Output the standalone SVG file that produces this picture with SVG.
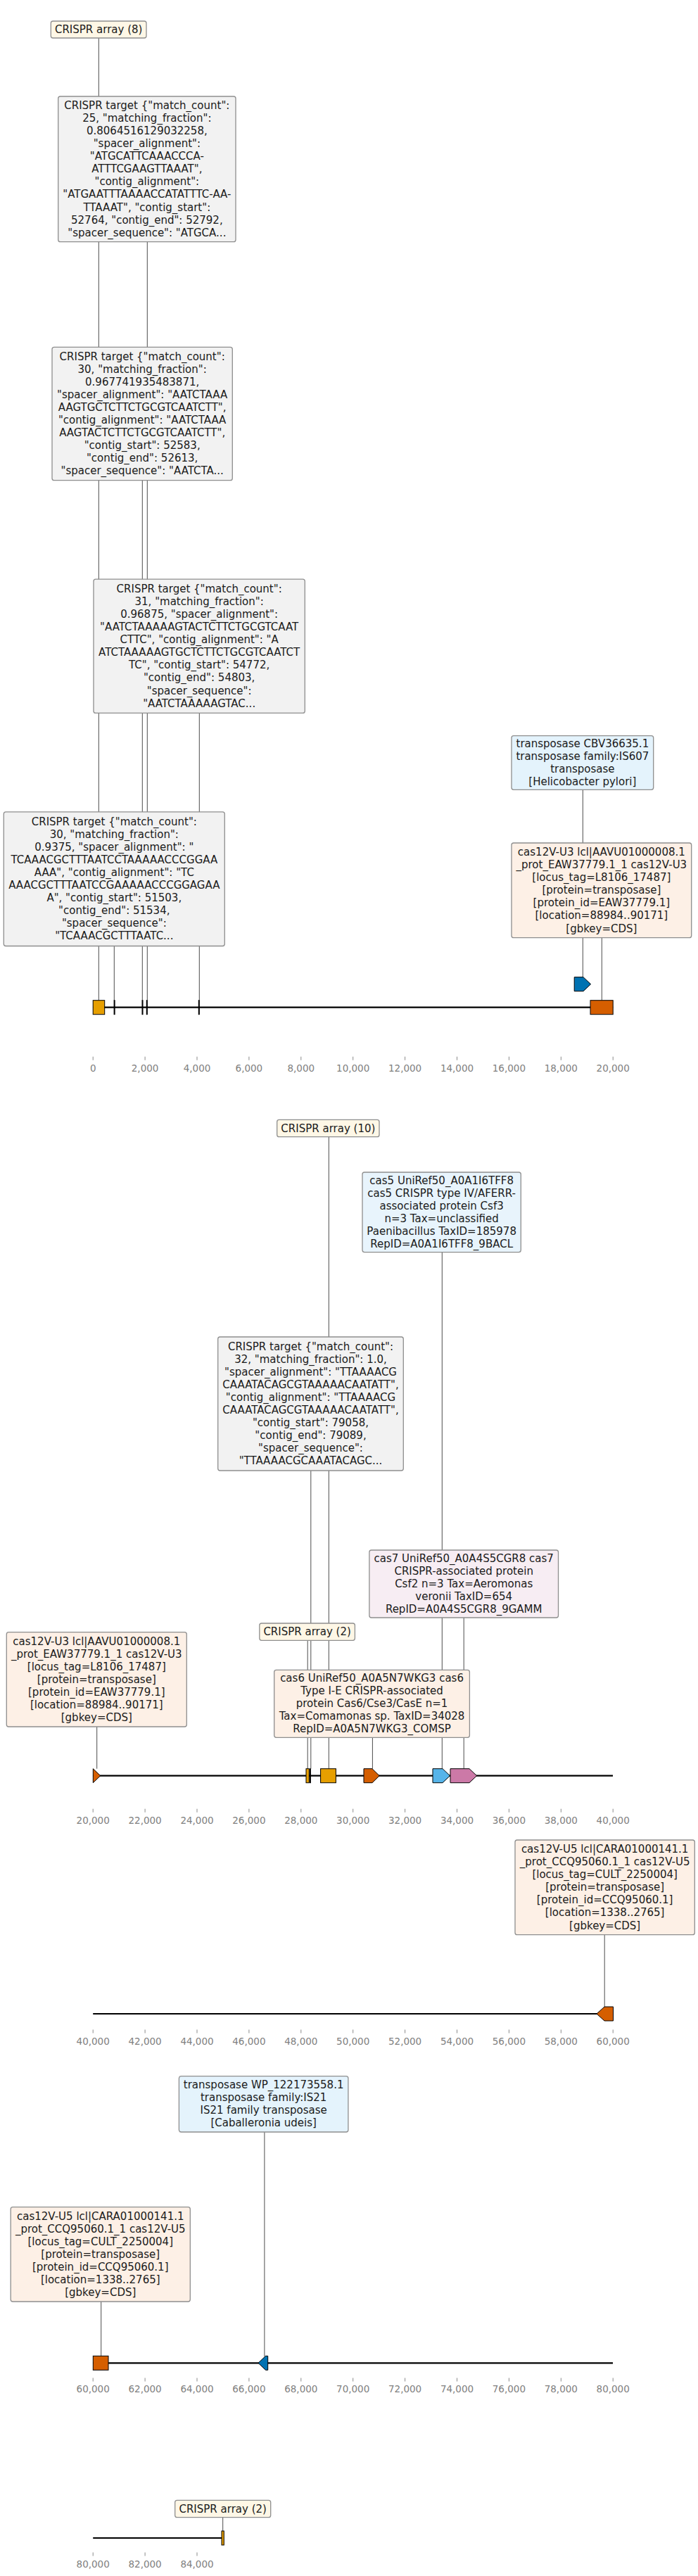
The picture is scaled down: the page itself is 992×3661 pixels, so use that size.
<svg xmlns="http://www.w3.org/2000/svg" width="992" height="3661" viewBox="0 0 992 3661">
<style>
.bg{fill:#ffffff}
.lbl rect{stroke:#8e8e8e;stroke-width:1.3}
.lbl text{font-family:"DejaVu Sans",sans-serif;font-size:15px;fill:#1a1a1a;text-anchor:middle}
.arr{fill:#FEF7E6}
.tgt{fill:#F2F2F2}
.tpb{fill:#E4F3FC}
.c12{fill:#FDF0E6}
.c5{fill:#E8F4FC}
.c7{fill:#F7EDF3}
.con line{stroke:#4d4d4d;stroke-width:1}
.axis{stroke:#000;stroke-width:2.2;fill:none}
.feat{stroke:#000;stroke-width:1}
.tick{stroke:#8a8a8a;stroke-width:1}
.tl{font-family:"DejaVu Sans",sans-serif;font-size:13.5px;fill:#808080;text-anchor:middle}
</style>
<rect class="bg" x="0" y="0" width="992" height="3661"/>

<g id="connectors" class="con">
<line x1="140.3" y1="54" x2="140.3" y2="1421.7"/>
<line x1="209.3" y1="343.7" x2="209.3" y2="1421.7"/>
<line x1="202.3" y1="682.7" x2="202.3" y2="1421.7"/>
<line x1="283.3" y1="1013.4" x2="283.3" y2="1421.7"/>
<line x1="162.3" y1="1344.5" x2="162.3" y2="1421.7"/>
<line x1="828.3" y1="1122.3" x2="828.3" y2="1388.7"/>
<line x1="855.3" y1="1332.7" x2="855.3" y2="1421.7"/>
<line x1="467.3" y1="1615.7" x2="467.3" y2="2513.7"/>
<line x1="628.3" y1="1779.6" x2="628.3" y2="2513.7"/>
<line x1="441.8" y1="2090" x2="441.8" y2="2513.7"/>
<line x1="137.7" y1="2454" x2="137.7" y2="2513.7"/>
<line x1="437.2" y1="2331.3" x2="437.2" y2="2513.7"/>
<line x1="529.4" y1="2469.3" x2="529.4" y2="2513.7"/>
<line x1="659.2" y1="2299" x2="659.2" y2="2513.7"/>
<line x1="859.2" y1="2749.7" x2="859.2" y2="2852"/>
<line x1="375.9" y1="3030" x2="375.9" y2="3349"/>
<line x1="143.7" y1="3271" x2="143.7" y2="3348.3"/>
<line x1="316.7" y1="3577.7" x2="316.7" y2="3597"/>
</g>

<g id="track1">
<path class="axis" d="M132.2 1431.7H871.2"/>
<rect class="feat" x="132.2" y="1421.7" width="16.5" height="20" fill="#E69F00"/>
<rect class="feat" x="162.1" y="1421.7" width="1" height="20" fill="#000"/>
<rect class="feat" x="202" y="1421.7" width="1" height="20" fill="#000"/>
<rect class="feat" x="208.3" y="1421.7" width="1" height="20" fill="#000"/>
<rect class="feat" x="282.3" y="1421.7" width="1" height="20" fill="#000"/>
<path class="feat" d="M816.2 1388.7H829L839.6 1398.7L829 1408.7H816.2Z" fill="#0072B2"/>
<rect class="feat" x="839" y="1421.7" width="32.2" height="20" fill="#D55E00"/>
<g class="tick">
<line x1="132.2" y1="1501.7" x2="132.2" y2="1506.7"/><line x1="206.1" y1="1501.7" x2="206.1" y2="1506.7"/><line x1="280" y1="1501.7" x2="280" y2="1506.7"/><line x1="353.9" y1="1501.7" x2="353.9" y2="1506.7"/><line x1="427.8" y1="1501.7" x2="427.8" y2="1506.7"/><line x1="501.7" y1="1501.7" x2="501.7" y2="1506.7"/><line x1="575.6" y1="1501.7" x2="575.6" y2="1506.7"/><line x1="649.5" y1="1501.7" x2="649.5" y2="1506.7"/><line x1="723.4" y1="1501.7" x2="723.4" y2="1506.7"/><line x1="797.3" y1="1501.7" x2="797.3" y2="1506.7"/><line x1="871.2" y1="1501.7" x2="871.2" y2="1506.7"/>
</g>
<text class="tl" x="132.2" y="1523.2">0</text><text class="tl" x="206.1" y="1523.2">2,000</text><text class="tl" x="280" y="1523.2">4,000</text><text class="tl" x="353.9" y="1523.2">6,000</text><text class="tl" x="427.8" y="1523.2">8,000</text><text class="tl" x="501.7" y="1523.2">10,000</text><text class="tl" x="575.6" y="1523.2">12,000</text><text class="tl" x="649.5" y="1523.2">14,000</text><text class="tl" x="723.4" y="1523.2">16,000</text><text class="tl" x="797.3" y="1523.2">18,000</text><text class="tl" x="871.2" y="1523.2">20,000</text>
</g>

<g id="track2">
<path class="axis" d="M132.2 2523.7H871"/>
<path class="feat" d="M132.3 2513.7L142.7 2523.7L132.3 2533.7Z" fill="#D55E00"/>
<rect class="feat" x="435" y="2513.7" width="4.3" height="20" fill="#E69F00"/>
<rect class="feat" x="440.6" y="2513.7" width="0.8" height="20" fill="#000"/>
<rect class="feat" x="455.6" y="2513.7" width="21.8" height="20" fill="#E69F00"/>
<path class="feat" d="M517 2513.7H529L539.2 2523.7L529 2533.7H517Z" fill="#D55E00"/>
<path class="feat" d="M615 2513.7H629L639.5 2523.7L629 2533.7H615Z" fill="#56B4E9"/>
<path class="feat" d="M640 2513.7H667L677.6 2523.7L667 2533.7H640Z" fill="#CC79A7"/>
<g class="tick">
<line x1="132.2" y1="2570.7" x2="132.2" y2="2575.7"/><line x1="206.1" y1="2570.7" x2="206.1" y2="2575.7"/><line x1="280" y1="2570.7" x2="280" y2="2575.7"/><line x1="353.9" y1="2570.7" x2="353.9" y2="2575.7"/><line x1="427.8" y1="2570.7" x2="427.8" y2="2575.7"/><line x1="501.7" y1="2570.7" x2="501.7" y2="2575.7"/><line x1="575.6" y1="2570.7" x2="575.6" y2="2575.7"/><line x1="649.5" y1="2570.7" x2="649.5" y2="2575.7"/><line x1="723.4" y1="2570.7" x2="723.4" y2="2575.7"/><line x1="797.3" y1="2570.7" x2="797.3" y2="2575.7"/><line x1="871.2" y1="2570.7" x2="871.2" y2="2575.7"/>
</g>
<text class="tl" x="132.2" y="2592.2">20,000</text><text class="tl" x="206.1" y="2592.2">22,000</text><text class="tl" x="280" y="2592.2">24,000</text><text class="tl" x="353.9" y="2592.2">26,000</text><text class="tl" x="427.8" y="2592.2">28,000</text><text class="tl" x="501.7" y="2592.2">30,000</text><text class="tl" x="575.6" y="2592.2">32,000</text><text class="tl" x="649.5" y="2592.2">34,000</text><text class="tl" x="723.4" y="2592.2">36,000</text><text class="tl" x="797.3" y="2592.2">38,000</text><text class="tl" x="871.2" y="2592.2">40,000</text>
</g>

<g id="track3">
<path class="axis" d="M132.2 2862H860"/>
<path class="feat" d="M871.5 2852H859L848 2862L859 2872H871.5Z" fill="#D55E00"/>
<g class="tick">
<line x1="132.2" y1="2884.5" x2="132.2" y2="2889.5"/><line x1="206.1" y1="2884.5" x2="206.1" y2="2889.5"/><line x1="280" y1="2884.5" x2="280" y2="2889.5"/><line x1="353.9" y1="2884.5" x2="353.9" y2="2889.5"/><line x1="427.8" y1="2884.5" x2="427.8" y2="2889.5"/><line x1="501.7" y1="2884.5" x2="501.7" y2="2889.5"/><line x1="575.6" y1="2884.5" x2="575.6" y2="2889.5"/><line x1="649.5" y1="2884.5" x2="649.5" y2="2889.5"/><line x1="723.4" y1="2884.5" x2="723.4" y2="2889.5"/><line x1="797.3" y1="2884.5" x2="797.3" y2="2889.5"/><line x1="871.2" y1="2884.5" x2="871.2" y2="2889.5"/>
</g>
<text class="tl" x="132.2" y="2906.2">40,000</text><text class="tl" x="206.1" y="2906.2">42,000</text><text class="tl" x="280" y="2906.2">44,000</text><text class="tl" x="353.9" y="2906.2">46,000</text><text class="tl" x="427.8" y="2906.2">48,000</text><text class="tl" x="501.7" y="2906.2">50,000</text><text class="tl" x="575.6" y="2906.2">52,000</text><text class="tl" x="649.5" y="2906.2">54,000</text><text class="tl" x="723.4" y="2906.2">56,000</text><text class="tl" x="797.3" y="2906.2">58,000</text><text class="tl" x="871.2" y="2906.2">60,000</text>
</g>

<g id="track4">
<path class="axis" d="M132.2 3358.3H871"/>
<rect class="feat" x="132.3" y="3348.3" width="21.7" height="20" fill="#D55E00"/>
<path class="feat" d="M380.7 3348.3H377.5L367 3358.3L377.5 3368.3H380.7Z" fill="#0072B2"/>
<g class="tick">
<line x1="132.2" y1="3379.5" x2="132.2" y2="3384.5"/><line x1="206.1" y1="3379.5" x2="206.1" y2="3384.5"/><line x1="280" y1="3379.5" x2="280" y2="3384.5"/><line x1="353.9" y1="3379.5" x2="353.9" y2="3384.5"/><line x1="427.8" y1="3379.5" x2="427.8" y2="3384.5"/><line x1="501.7" y1="3379.5" x2="501.7" y2="3384.5"/><line x1="575.6" y1="3379.5" x2="575.6" y2="3384.5"/><line x1="649.5" y1="3379.5" x2="649.5" y2="3384.5"/><line x1="723.4" y1="3379.5" x2="723.4" y2="3384.5"/><line x1="797.3" y1="3379.5" x2="797.3" y2="3384.5"/><line x1="871.2" y1="3379.5" x2="871.2" y2="3384.5"/>
</g>
<text class="tl" x="132.2" y="3399.9">60,000</text><text class="tl" x="206.1" y="3399.9">62,000</text><text class="tl" x="280" y="3399.9">64,000</text><text class="tl" x="353.9" y="3399.9">66,000</text><text class="tl" x="427.8" y="3399.9">68,000</text><text class="tl" x="501.7" y="3399.9">70,000</text><text class="tl" x="575.6" y="3399.9">72,000</text><text class="tl" x="649.5" y="3399.9">74,000</text><text class="tl" x="723.4" y="3399.9">76,000</text><text class="tl" x="797.3" y="3399.9">78,000</text><text class="tl" x="871.2" y="3399.9">80,000</text>
</g>

<g id="track5">
<path class="axis" d="M132.2 3607H315"/>
<rect class="feat" x="315" y="3597" width="3.3" height="20" fill="#E69F00"/>
<g class="tick">
<line x1="132.2" y1="3627.5" x2="132.2" y2="3632.5"/><line x1="206.1" y1="3627.5" x2="206.1" y2="3632.5"/><line x1="280" y1="3627.5" x2="280" y2="3632.5"/>
</g>
<text class="tl" x="132.2" y="3648.9">80,000</text><text class="tl" x="206.1" y="3648.9">82,000</text><text class="tl" x="280" y="3648.9">84,000</text>
</g>

<g id="n_crispr_array_8" class="lbl">
<rect class="arr" x="72.3" y="30" width="135.7" height="24" rx="3"/>
<text x="140.2" y="47.3">CRISPR array (8)</text>
</g>
<g id="n_target_25" class="lbl">
<rect class="tgt" x="82.7" y="137" width="252.3" height="206.7" rx="3"/>
<text y="155.1"><tspan x="208.85">CRISPR target {"match_count":</tspan><tspan x="208.85" dy="18.05">25, "matching_fraction":</tspan><tspan x="208.85" dy="18.05">0.8064516129032258,</tspan><tspan x="208.85" dy="18.05">"spacer_alignment":</tspan><tspan x="208.85" dy="18.05">"ATGCATTCAAACCCA-</tspan><tspan x="208.85" dy="18.05">ATTTCGAAGTTAAAT",</tspan><tspan x="208.85" dy="18.05">"contig_alignment":</tspan><tspan x="208.85" dy="18.05">"ATGAATTTAAAACCATATTTC-AA-</tspan><tspan x="208.85" dy="18.05">TTAAAT", "contig_start":</tspan><tspan x="208.85" dy="18.05">52764, "contig_end": 52792,</tspan><tspan x="208.85" dy="18.05">"spacer_sequence": "ATGCA...</tspan></text>
</g>
<g id="n_target_30a" class="lbl">
<rect class="tgt" x="74" y="493.3" width="256.3" height="189.4" rx="3"/>
<text y="511.8"><tspan x="202.15">CRISPR target {"match_count":</tspan><tspan x="202.15" dy="18.05">30, "matching_fraction":</tspan><tspan x="202.15" dy="18.05">0.967741935483871,</tspan><tspan x="202.15" dy="18.05">"spacer_alignment": "AATCTAAA</tspan><tspan x="202.15" dy="18.05">AAGTGCTCTTCTGCGTCAATCTT",</tspan><tspan x="202.15" dy="18.05">"contig_alignment": "AATCTAAA</tspan><tspan x="202.15" dy="18.05">AAGTACTCTTCTGCGTCAATCTT",</tspan><tspan x="202.15" dy="18.05">"contig_start": 52583,</tspan><tspan x="202.15" dy="18.05">"contig_end": 52613,</tspan><tspan x="202.15" dy="18.05">"spacer_sequence": "AATCTA...</tspan></text>
</g>
<g id="n_target_31" class="lbl">
<rect class="tgt" x="133" y="823.2" width="300.3" height="190.2" rx="3"/>
<text y="842.1"><tspan x="283.15">CRISPR target {"match_count":</tspan><tspan x="283.15" dy="18.05">31, "matching_fraction":</tspan><tspan x="283.15" dy="18.05">0.96875, "spacer_alignment":</tspan><tspan x="283.15" dy="18.05">"AATCTAAAAAGTACTCTTCTGCGTCAAT</tspan><tspan x="283.15" dy="18.05">CTTC", "contig_alignment": "A</tspan><tspan x="283.15" dy="18.05">ATCTAAAAAGTGCTCTTCTGCGTCAATCT</tspan><tspan x="283.15" dy="18.05">TC", "contig_start": 54772,</tspan><tspan x="283.15" dy="18.05">"contig_end": 54803,</tspan><tspan x="283.15" dy="18.05">"spacer_sequence":</tspan><tspan x="283.15" dy="18.05">"AATCTAAAAAGTAC...</tspan></text>
</g>
<g id="n_target_30b" class="lbl">
<rect class="tgt" x="5.3" y="1153.9" width="314" height="190.6" rx="3"/>
<text y="1173"><tspan x="162.3">CRISPR target {"match_count":</tspan><tspan x="162.3" dy="18.05">30, "matching_fraction":</tspan><tspan x="162.3" dy="18.05">0.9375, "spacer_alignment": "</tspan><tspan x="162.3" dy="18.05">TCAAACGCTTTAATCCTAAAAACCCGGAA</tspan><tspan x="162.3" dy="18.05">AAA", "contig_alignment": "TC</tspan><tspan x="162.3" dy="18.05">AAACGCTTTAATCCGAAAAACCCGGAGAA</tspan><tspan x="162.3" dy="18.05">A", "contig_start": 51503,</tspan><tspan x="162.3" dy="18.05">"contig_end": 51534,</tspan><tspan x="162.3" dy="18.05">"spacer_sequence":</tspan><tspan x="162.3" dy="18.05">"TCAAACGCTTTAATC...</tspan></text>
</g>
<g id="n_transposase_CBV" class="lbl">
<rect class="tpb" x="727" y="1045.7" width="201.7" height="76.6" rx="3"/>
<text y="1061.9"><tspan x="827.85">transposase CBV36635.1</tspan><tspan x="827.85" dy="18.05">transposase family:IS607</tspan><tspan x="827.85" dy="18.05">transposase</tspan><tspan x="827.85" dy="18.05">[Helicobacter pylori]</tspan></text>
</g>
<g id="n_cas12VU3_a" class="lbl">
<rect class="c12" x="727" y="1198" width="255.7" height="134.7" rx="3"/>
<text y="1216.2"><tspan x="854.85">cas12V-U3 lcl|AAVU01000008.1</tspan><tspan x="854.85" dy="18.05">_prot_EAW37779.1_1 cas12V-U3</tspan><tspan x="854.85" dy="18.05">[locus_tag=L8106_17487]</tspan><tspan x="854.85" dy="18.05">[protein=transposase]</tspan><tspan x="854.85" dy="18.05">[protein_id=EAW37779.1]</tspan><tspan x="854.85" dy="18.05">[location=88984..90171]</tspan><tspan x="854.85" dy="18.05">[gbkey=CDS]</tspan></text>
</g>

<g id="n_crispr_array_10" class="lbl">
<rect class="arr" x="393.7" y="1591.4" width="145.3" height="24.3" rx="3"/>
<text x="466.35" y="1608.8">CRISPR array (10)</text>
</g>
<g id="n_cas5" class="lbl">
<rect class="c5" x="515" y="1666" width="225.3" height="113.6" rx="3"/>
<text y="1682.7"><tspan x="627.65">cas5 UniRef50_A0A1I6TFF8</tspan><tspan x="627.65" dy="18.05">cas5 CRISPR type IV/AFERR-</tspan><tspan x="627.65" dy="18.05">associated protein Csf3</tspan><tspan x="627.65" dy="18.05">n=3 Tax=unclassified</tspan><tspan x="627.65" dy="18.05">Paenibacillus TaxID=185978</tspan><tspan x="627.65" dy="18.05">RepID=A0A1I6TFF8_9BACL</tspan></text>
</g>
<g id="n_target_32" class="lbl">
<rect class="tgt" x="309.7" y="1900" width="263.6" height="190" rx="3"/>
<text y="1918.8"><tspan x="441.5">CRISPR target {"match_count":</tspan><tspan x="441.5" dy="18.05">32, "matching_fraction": 1.0,</tspan><tspan x="441.5" dy="18.05">"spacer_alignment": "TTAAAACG</tspan><tspan x="441.5" dy="18.05">CAAATACAGCGTAAAAACAATATT",</tspan><tspan x="441.5" dy="18.05">"contig_alignment": "TTAAAACG</tspan><tspan x="441.5" dy="18.05">CAAATACAGCGTAAAAACAATATT",</tspan><tspan x="441.5" dy="18.05">"contig_start": 79058,</tspan><tspan x="441.5" dy="18.05">"contig_end": 79089,</tspan><tspan x="441.5" dy="18.05">"spacer_sequence":</tspan><tspan x="441.5" dy="18.05">"TTAAAACGCAAATACAGC...</tspan></text>
</g>
<g id="n_cas7" class="lbl">
<rect class="c7" x="524.9" y="2203" width="268.6" height="96" rx="3"/>
<text y="2219.9"><tspan x="659.2">cas7 UniRef50_A0A4S5CGR8 cas7</tspan><tspan x="659.2" dy="18.05">CRISPR-associated protein</tspan><tspan x="659.2" dy="18.05">Csf2 n=3 Tax=Aeromonas</tspan><tspan x="659.2" dy="18.05">veronii TaxID=654</tspan><tspan x="659.2" dy="18.05">RepID=A0A4S5CGR8_9GAMM</tspan></text>
</g>
<g id="n_crispr_array_2a" class="lbl">
<rect class="arr" x="368.8" y="2307" width="135.6" height="24.3" rx="3"/>
<text x="436.6" y="2324.4">CRISPR array (2)</text>
</g>
<g id="n_cas6" class="lbl">
<rect class="c12" x="389.7" y="2373.3" width="277.7" height="96" rx="3"/>
<text y="2390.2"><tspan x="528.55">cas6 UniRef50_A0A5N7WKG3 cas6</tspan><tspan x="528.55" dy="18.05">Type I-E CRISPR-associated</tspan><tspan x="528.55" dy="18.05">protein Cas6/Cse3/CasE n=1</tspan><tspan x="528.55" dy="18.05">Tax=Comamonas sp. TaxID=34028</tspan><tspan x="528.55" dy="18.05">RepID=A0A5N7WKG3_COMSP</tspan></text>
</g>
<g id="n_cas12VU3_b" class="lbl">
<rect class="c12" x="9.3" y="2319.7" width="256" height="134.3" rx="3"/>
<text y="2337.7"><tspan x="137.3">cas12V-U3 lcl|AAVU01000008.1</tspan><tspan x="137.3" dy="18.05">_prot_EAW37779.1_1 cas12V-U3</tspan><tspan x="137.3" dy="18.05">[locus_tag=L8106_17487]</tspan><tspan x="137.3" dy="18.05">[protein=transposase]</tspan><tspan x="137.3" dy="18.05">[protein_id=EAW37779.1]</tspan><tspan x="137.3" dy="18.05">[location=88984..90171]</tspan><tspan x="137.3" dy="18.05">[gbkey=CDS]</tspan></text>
</g>

<g id="n_cas12VU5_a" class="lbl">
<rect class="c12" x="732" y="2615" width="255.3" height="134.7" rx="3"/>
<text y="2633.2"><tspan x="859.65">cas12V-U5 lcl|CARA01000141.1</tspan><tspan x="859.65" dy="18.05">_prot_CCQ95060.1_1 cas12V-U5</tspan><tspan x="859.65" dy="18.05">[locus_tag=CULT_2250004]</tspan><tspan x="859.65" dy="18.05">[protein=transposase]</tspan><tspan x="859.65" dy="18.05">[protein_id=CCQ95060.1]</tspan><tspan x="859.65" dy="18.05">[location=1338..2765]</tspan><tspan x="859.65" dy="18.05">[gbkey=CDS]</tspan></text>
</g>

<g id="n_transposase_WP" class="lbl">
<rect class="tpb" x="254.4" y="2950.7" width="240.5" height="79.3" rx="3"/>
<text y="2968.3"><tspan x="374.65">transposase WP_122173558.1</tspan><tspan x="374.65" dy="18.05">transposase family:IS21</tspan><tspan x="374.65" dy="18.05">IS21 family transposase</tspan><tspan x="374.65" dy="18.05">[Caballeronia udeis]</tspan></text>
</g>
<g id="n_cas12VU5_b" class="lbl">
<rect class="c12" x="15.2" y="3136.7" width="255.1" height="134.3" rx="3"/>
<text y="3154.7"><tspan x="142.75">cas12V-U5 lcl|CARA01000141.1</tspan><tspan x="142.75" dy="18.05">_prot_CCQ95060.1_1 cas12V-U5</tspan><tspan x="142.75" dy="18.05">[locus_tag=CULT_2250004]</tspan><tspan x="142.75" dy="18.05">[protein=transposase]</tspan><tspan x="142.75" dy="18.05">[protein_id=CCQ95060.1]</tspan><tspan x="142.75" dy="18.05">[location=1338..2765]</tspan><tspan x="142.75" dy="18.05">[gbkey=CDS]</tspan></text>
</g>

<g id="n_crispr_array_2b" class="lbl">
<rect class="arr" x="248.7" y="3553.3" width="136" height="24.4" rx="3"/>
<text x="316.7" y="3570.8">CRISPR array (2)</text>
</g>
</svg>
